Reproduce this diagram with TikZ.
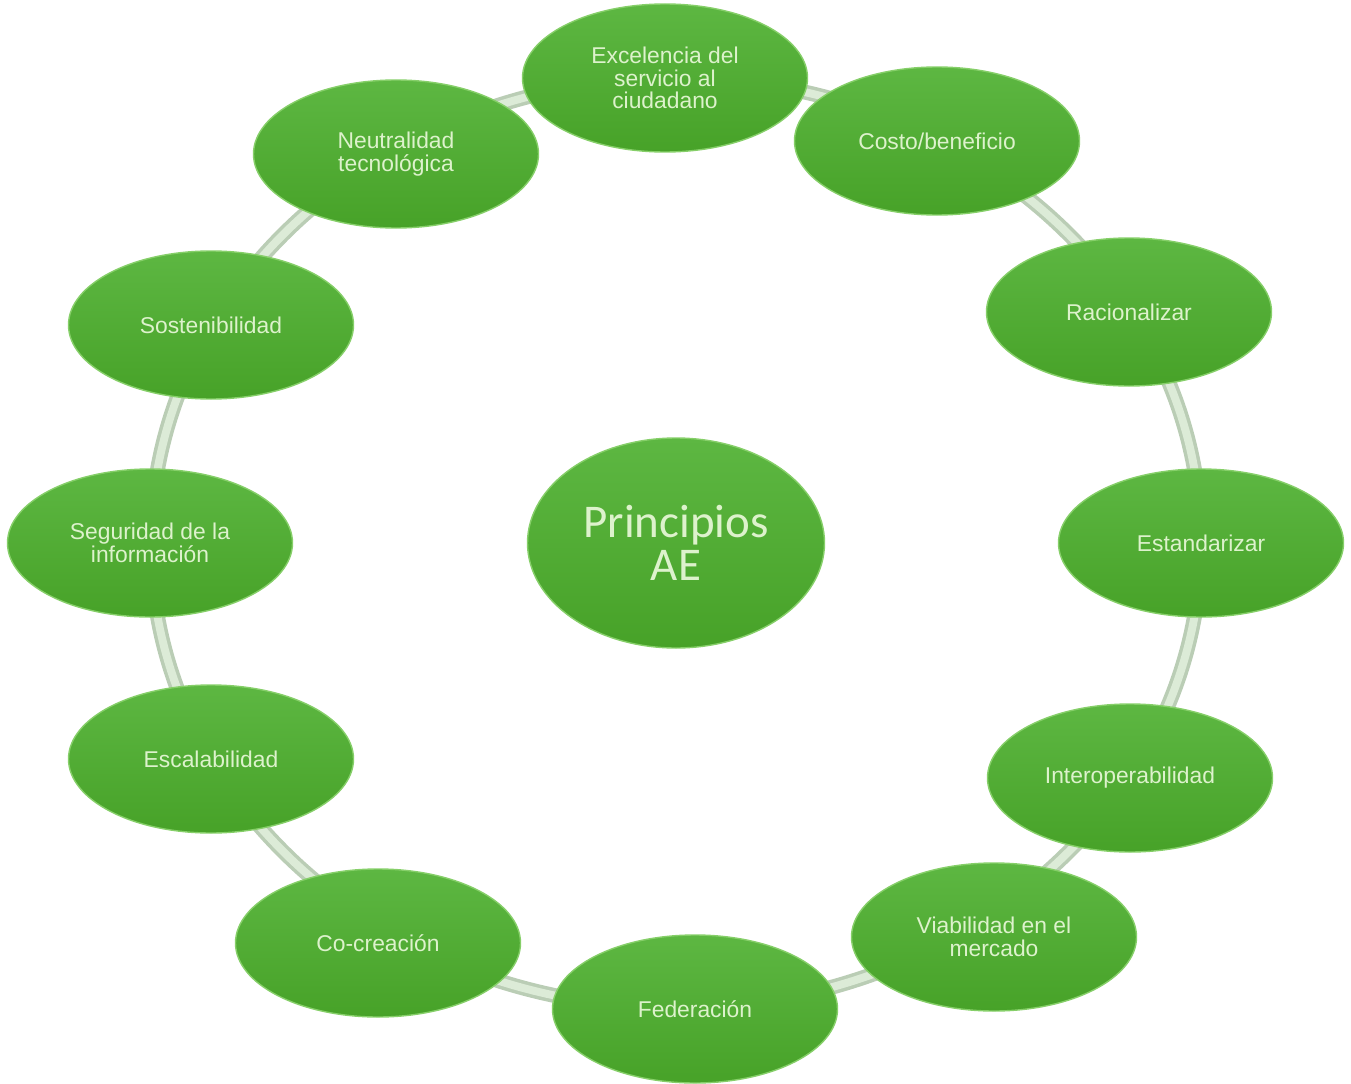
\documentclass[tikz,border=0pt]{standalone}
\usepackage{fontspec}
\setmainfont{Liberation Sans}
\newfontfamily\corefont{Carlito}
\usetikzlibrary{shapes.geometric}
\definecolor{leaf-top}{HTML}{5DB742}
\definecolor{leaf-bottom}{HTML}{47A228}
\definecolor{leaf-rim}{HTML}{86CF69}
\definecolor{leaf-text}{HTML}{DDF2CC}
\definecolor{ring-edge}{HTML}{BACDB5}
\definecolor{ring-core}{HTML}{DCEBD7}

\begin{document}
\begin{tikzpicture}[
  principle/.style={ellipse, top color=leaf-top, bottom color=leaf-bottom,
    draw=leaf-rim, line width=0.8pt, inner sep=0pt,
    minimum width=5.7cm, minimum height=2.96cm, align=center,
    text=leaf-text, font=\fontsize{13}{12.8}\selectfont},
  core/.style={ellipse, top color=leaf-top, bottom color=leaf-bottom,
    draw=leaf-rim, line width=0.8pt, inner sep=0pt,
    minimum width=5.94cm, minimum height=4.2cm, align=center,
    text=leaf-text, font=\corefont\fontsize{26.7}{24.6}\selectfont},
]
  \useasboundingbox (0,0) rectangle (27.02,-21.68);
  \node[core] (ae) at (13.52,-10.86) {Principios\\AE};
  % ring behind the principles
  \draw[ring-edge, line width=8.5pt] (ae.center) ellipse [x radius=10.5cm, y radius=9.3cm];
  \draw[ring-core, line width=4.5pt] (ae.center) ellipse [x radius=10.5cm, y radius=9.3cm];
  \node[principle] (exc)    at (13.30,-1.56)  {Excelencia del\\servicio al\\ciudadano};
  \node[principle] (costo)  at (18.74,-2.82)  {Costo/beneficio};
  \node[principle] (racio)  at (22.58,-6.24)  {Racionalizar};
  \node[principle] (estan)  at (24.02,-10.86) {Estandarizar};
  \node[principle] (inter)  at (22.60,-15.56) {Interoperabilidad};
  \node[principle] (viab)   at (19.88,-18.74) {Viabilidad en el\\mercado};
  \node[principle] (fed)    at (13.90,-20.18) {Federación};
  \node[principle] (cocrea) at (7.56,-18.86)  {Co-creación};
  \node[principle] (escal)  at (4.22,-15.18)  {Escalabilidad};
  \node[principle] (segur)  at (3.00,-10.86)  {Seguridad de la\\información};
  \node[principle] (soste)  at (4.22,-6.50)   {Sostenibilidad};
  \node[principle] (neutr)  at (7.92,-3.08)   {Neutralidad\\tecnológica};
\end{tikzpicture}
\end{document}
